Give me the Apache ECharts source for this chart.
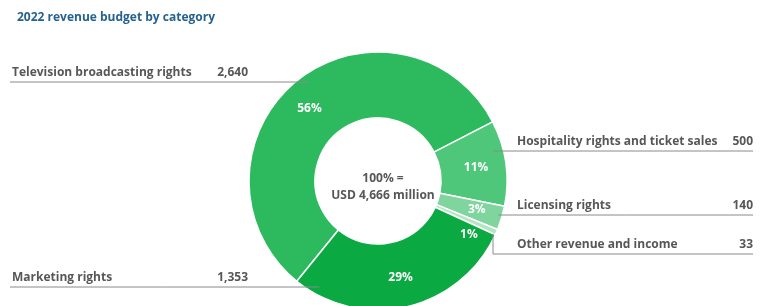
<!DOCTYPE html>
<html>
<head>
<meta charset="utf-8">
<script src="https://cdn.jsdelivr.net/npm/echarts@6/dist/echarts.min.js"></script>
<style>
  html, body { margin: 0; padding: 0; background: #ffffff; }
  #chart { width: 768px; height: 306px; }
</style>
</head>
<body>
<div id="chart"></div>
<script>
// ---- data ----
const chartTitle = '2022 revenue budget by category';
const centerLines = ['100% =', 'USD 4,666 million'];
const categories = [
  'Television broadcasting rights',
  'Hospitality rights and ticket sales',
  'Licensing rights',
  'Other revenue and income',
  'Marketing rights'
];
const values = [2640, 500, 140, 33, 1353];
const valueLabels = ['2,640', '500', '140', '33', '1,353'];
const percentLabels = ['56%', '11%', '3%', '1%', '29%'];

// ---- styling / layout ----
const sliceColors = ['#2dba5e', '#4ec77b', '#80d59f', '#b1e5c4', '#0aa942'];
const CX = 378, CY = 181, R_OUT = 129, R_IN = 63;
const TEXT = '#575757';
const FONT = '"Open Sans", "Noto Sans", sans-serif';
const LABEL_W = 236;
// per category: side, underline y, how far the leader reaches inside the ring
const placement = [
  { side: 'left',  lineY: 82,  inset: 13 },
  { side: 'right', lineY: 151, inset: 10 },
  { side: 'right', lineY: 215, inset: 4 },
  { side: 'right', lineY: 254, elbowX: 493, inset: 6 },
  { side: 'left',  lineY: 287, inset: 15 }
];
const LEFT_X = 12, RIGHT_X = 517, LEFT_LINE_X = 10, RIGHT_LINE_X = 753;
const pctOffsets = [[-6, 4], [0, 0], [4, 0], [0, 14], [0, 0]];

function layoutLabel(params) {
  const p = placement[params.dataIndex];
  let pts;
  if (p.elbowX !== undefined) {
    const dx = p.elbowX - CX;
    const ay = CY + Math.sqrt(R_OUT * R_OUT - dx * dx) - p.inset;
    pts = [[p.elbowX, ay], [p.elbowX, p.lineY], [RIGHT_LINE_X, p.lineY]];
  } else {
    const dy = p.lineY - CY;
    const half = Math.sqrt(R_OUT * R_OUT - dy * dy) - p.inset;
    if (p.side === 'left') {
      const ax = CX - half;
      pts = [[ax, p.lineY], [(ax + LEFT_LINE_X) / 2, p.lineY], [LEFT_LINE_X, p.lineY]];
    } else {
      const ax = CX + half;
      pts = [[ax, p.lineY], [(ax + RIGHT_LINE_X) / 2, p.lineY], [RIGHT_LINE_X, p.lineY]];
    }
  }
  return {
    x: p.side === 'left' ? LEFT_X : RIGHT_X,
    y: p.lineY - 3,
    align: 'left',
    verticalAlign: 'bottom',
    labelLinePoints: pts
  };
}

const sliceData = categories.map((name, i) => ({
  name: name,
  value: values[i],
  itemStyle: { color: sliceColors[i] },
  label: { offset: pctOffsets[i] }
}));
const labelData = categories.map((name, i) => ({ name: name, value: values[i] }));

const chart = echarts.init(document.getElementById('chart'), null, { renderer: 'canvas' });
chart.setOption({
  animation: false,
  title: [
    {
      text: chartTitle, left: 12, top: 7,
      textStyle: { color: '#25628f', fontSize: 12, fontWeight: 'bold', fontFamily: FONT }
    },
    {
      text: centerLines.join('\n'), left: CX, top: CY - 16, textAlign: 'center',
      textStyle: { color: TEXT, fontSize: 12, fontWeight: 'bold', fontFamily: FONT, lineHeight: 17 }
    }
  ],
  series: [
    {
      type: 'pie',
      center: [CX, CY],
      radius: [R_IN, R_OUT],
      startAngle: 231,
      clockwise: true,
      silent: true,
      emphasis: { disabled: true },
      itemStyle: { borderColor: '#ffffff', borderWidth: 1.5 },
      label: {
        show: true, position: 'inside',
        color: '#ffffff', fontSize: 12, fontWeight: 'bold', fontFamily: FONT,
        formatter: p => percentLabels[p.dataIndex]
      },
      labelLine: { show: false },
      data: sliceData
    },
    {
      type: 'pie',
      center: [CX, CY],
      radius: [R_IN, R_OUT],
      startAngle: 231,
      clockwise: true,
      silent: true,
      z: 3,
      emphasis: { disabled: true },
      itemStyle: { color: 'rgba(0,0,0,0)', borderWidth: 0 },
      label: {
        show: true, position: 'outside',
        width: LABEL_W,
        color: TEXT, fontSize: 12, fontWeight: 'bold', fontFamily: FONT,
        formatter: p => '{n|' + p.name + '}{v|' + valueLabels[p.dataIndex] + '}',
        rich: {
          n: { align: 'left', color: TEXT, fontSize: 12, fontWeight: 'bold', fontFamily: FONT },
          v: { align: 'right', color: TEXT, fontSize: 12, fontWeight: 'bold', fontFamily: FONT }
        }
      },
      labelLine: { show: true, lineStyle: { color: '#8a8a8a', width: 1 } },
      labelLayout: layoutLabel,
      data: labelData
    }
  ]
});
</script>
</body>
</html>
